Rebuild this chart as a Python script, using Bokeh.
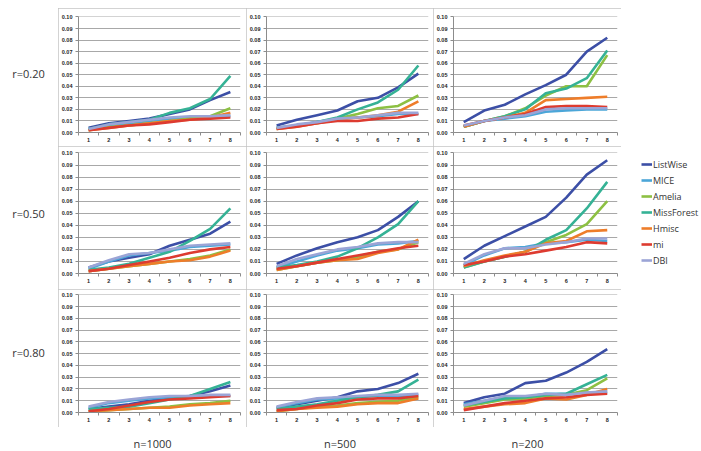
from bokeh.plotting import figure
from bokeh.layouts import row, column
from bokeh.models import (FixedTicker, PrintfTickFormatter, Range1d, Label,
                          Legend, LegendItem, Spacer)
from bokeh.embed import file_html
from bokeh.resources import INLINE

# ---------------- data ----------------
x_cats = [1, 2, 3, 4, 5, 6, 7, 8]
methods = ["ListWise", "MICE", "Amelia", "MissForest", "Hmisc", "mi", "DBI"]
colors = ["#3C4FA6", "#4BA6D8", "#8DC043", "#35B295", "#EE7D2A", "#DD3B30", "#9BA4D6"]
row_labels = ["r=0.20", "r=0.50", "r=0.80"]
col_labels = ["n=1000", "n=500", "n=200"]
y_ticks = [0.00, 0.01, 0.02, 0.03, 0.04, 0.05, 0.06, 0.07, 0.08, 0.09, 0.10]

r20_n1000 = {
    "ListWise":   [0.004, 0.008, 0.010, 0.012, 0.016, 0.020, 0.028, 0.035],
    "MICE":       [0.003, 0.006, 0.008, 0.010, 0.012, 0.013, 0.013, 0.014],
    "Amelia":     [0.002, 0.005, 0.006, 0.008, 0.010, 0.012, 0.014, 0.021],
    "MissForest": [0.003, 0.007, 0.009, 0.011, 0.017, 0.021, 0.029, 0.049],
    "Hmisc":      [0.002, 0.004, 0.006, 0.008, 0.010, 0.011, 0.013, 0.017],
    "mi":         [0.002, 0.004, 0.006, 0.007, 0.009, 0.011, 0.012, 0.013],
    "DBI":        [0.003, 0.007, 0.009, 0.011, 0.013, 0.014, 0.014, 0.015],
}
r20_n500 = {
    "ListWise":   [0.006, 0.011, 0.015, 0.019, 0.027, 0.030, 0.039, 0.051],
    "MICE":       [0.004, 0.006, 0.009, 0.012, 0.013, 0.014, 0.016, 0.016],
    "Amelia":     [0.003, 0.006, 0.008, 0.012, 0.016, 0.021, 0.023, 0.032],
    "MissForest": [0.004, 0.006, 0.009, 0.013, 0.020, 0.026, 0.037, 0.058],
    "Hmisc":      [0.003, 0.005, 0.008, 0.011, 0.013, 0.015, 0.018, 0.027],
    "mi":         [0.003, 0.005, 0.008, 0.010, 0.010, 0.012, 0.013, 0.016],
    "DBI":        [0.004, 0.007, 0.009, 0.012, 0.013, 0.015, 0.017, 0.017],
}
r20_n200 = {
    "ListWise":   [0.009, 0.019, 0.024, 0.033, 0.041, 0.050, 0.070, 0.082],
    "MICE":       [0.005, 0.010, 0.012, 0.014, 0.018, 0.019, 0.020, 0.020],
    "Amelia":     [0.005, 0.010, 0.014, 0.021, 0.032, 0.040, 0.040, 0.067],
    "MissForest": [0.005, 0.010, 0.014, 0.020, 0.034, 0.038, 0.047, 0.071],
    "Hmisc":      [0.005, 0.010, 0.013, 0.017, 0.028, 0.029, 0.030, 0.031],
    "mi":         [0.006, 0.010, 0.013, 0.016, 0.022, 0.023, 0.023, 0.022],
    "DBI":        [0.006, 0.010, 0.013, 0.015, 0.020, 0.021, 0.021, 0.021],
}
r50_n1000 = {
    "ListWise":   [0.005, 0.010, 0.013, 0.016, 0.023, 0.028, 0.033, 0.043],
    "MICE":       [0.004, 0.010, 0.015, 0.017, 0.019, 0.022, 0.023, 0.024],
    "Amelia":     [0.002, 0.004, 0.006, 0.008, 0.010, 0.012, 0.015, 0.020],
    "MissForest": [0.003, 0.005, 0.008, 0.013, 0.018, 0.027, 0.037, 0.054],
    "Hmisc":      [0.002, 0.004, 0.006, 0.008, 0.010, 0.011, 0.014, 0.019],
    "mi":         [0.002, 0.004, 0.007, 0.010, 0.013, 0.017, 0.020, 0.022],
    "DBI":        [0.005, 0.011, 0.016, 0.017, 0.020, 0.023, 0.024, 0.025],
}
r50_n500 = {
    "ListWise":   [0.008, 0.015, 0.021, 0.026, 0.030, 0.036, 0.047, 0.060],
    "MICE":       [0.005, 0.010, 0.015, 0.019, 0.021, 0.024, 0.025, 0.027],
    "Amelia":     [0.003, 0.006, 0.009, 0.011, 0.014, 0.018, 0.020, 0.026],
    "MissForest": [0.005, 0.007, 0.010, 0.014, 0.021, 0.030, 0.041, 0.060],
    "Hmisc":      [0.003, 0.006, 0.009, 0.011, 0.012, 0.017, 0.020, 0.028],
    "mi":         [0.004, 0.006, 0.009, 0.012, 0.015, 0.018, 0.021, 0.023],
    "DBI":        [0.006, 0.012, 0.016, 0.020, 0.022, 0.025, 0.026, 0.026],
}
r50_n200 = {
    "ListWise":   [0.012, 0.023, 0.031, 0.039, 0.047, 0.063, 0.082, 0.094],
    "MICE":       [0.007, 0.015, 0.021, 0.022, 0.025, 0.026, 0.028, 0.027],
    "Amelia":     [0.005, 0.010, 0.014, 0.018, 0.026, 0.032, 0.041, 0.060],
    "MissForest": [0.005, 0.010, 0.014, 0.018, 0.028, 0.036, 0.054, 0.076],
    "Hmisc":      [0.006, 0.011, 0.015, 0.018, 0.025, 0.027, 0.035, 0.036],
    "mi":         [0.007, 0.010, 0.014, 0.016, 0.019, 0.022, 0.026, 0.025],
    "DBI":        [0.008, 0.016, 0.021, 0.021, 0.024, 0.026, 0.029, 0.029],
}
r80_n1000 = {
    "ListWise":   [0.003, 0.005, 0.007, 0.010, 0.012, 0.014, 0.018, 0.023],
    "MICE":       [0.004, 0.008, 0.010, 0.012, 0.013, 0.014, 0.014, 0.014],
    "Amelia":     [0.001, 0.002, 0.003, 0.004, 0.005, 0.007, 0.008, 0.010],
    "MissForest": [0.003, 0.004, 0.005, 0.008, 0.011, 0.014, 0.020, 0.026],
    "Hmisc":      [0.001, 0.002, 0.003, 0.004, 0.004, 0.006, 0.007, 0.008],
    "mi":         [0.001, 0.003, 0.006, 0.009, 0.011, 0.012, 0.013, 0.014],
    "DBI":        [0.005, 0.009, 0.011, 0.013, 0.014, 0.014, 0.015, 0.015],
}
r80_n500 = {
    "ListWise":   [0.004, 0.007, 0.010, 0.013, 0.018, 0.020, 0.025, 0.033],
    "MICE":       [0.004, 0.008, 0.011, 0.012, 0.013, 0.014, 0.014, 0.015],
    "Amelia":     [0.001, 0.003, 0.005, 0.006, 0.008, 0.009, 0.010, 0.013],
    "MissForest": [0.003, 0.005, 0.007, 0.010, 0.013, 0.015, 0.018, 0.028],
    "Hmisc":      [0.001, 0.003, 0.004, 0.005, 0.007, 0.008, 0.008, 0.012],
    "mi":         [0.002, 0.003, 0.006, 0.008, 0.011, 0.012, 0.012, 0.014],
    "DBI":        [0.005, 0.009, 0.012, 0.013, 0.014, 0.015, 0.015, 0.016],
}
r80_n200 = {
    "ListWise":   [0.008, 0.013, 0.016, 0.025, 0.027, 0.034, 0.043, 0.054],
    "MICE":       [0.007, 0.010, 0.013, 0.013, 0.016, 0.016, 0.017, 0.017],
    "Amelia":     [0.005, 0.008, 0.011, 0.012, 0.014, 0.015, 0.019, 0.029],
    "MissForest": [0.006, 0.009, 0.012, 0.013, 0.015, 0.016, 0.024, 0.032],
    "Hmisc":      [0.003, 0.005, 0.007, 0.008, 0.012, 0.011, 0.015, 0.020],
    "mi":         [0.002, 0.005, 0.008, 0.010, 0.012, 0.013, 0.015, 0.016],
    "DBI":        [0.006, 0.010, 0.014, 0.014, 0.016, 0.015, 0.017, 0.018],
}

grid_data = [
    [r20_n1000, r20_n500, r20_n200],
    [r50_n1000, r50_n500, r50_n200],
    [r80_n1000, r80_n500, r80_n200],
]

# ---------------- layout sizes ----------------
page_margin = 8
col_w = [188, 187, 188]
col_right = [6, 5, 4]
row_h = [138, 143, 138]
row_top = [8, 6, 5]
row_bottom = [14, 16, 15]
label_w = 50
legend_w = 79
bottom_h = 23

AXIS = "#8c8c8c"
GRID = "#a8a8a8"
BORDER = "1px solid #c4c4c4"
TXT = "#333333"


def make_panel(data, w, h, top, bottom, right):
    p = figure(width=w, height=h, x_range=Range1d(0.5, 8.5), y_range=Range1d(0, 0.1004),
               output_backend="svg", toolbar_location=None,
               min_border_left=20, min_border_right=right,
               min_border_top=top, min_border_bottom=bottom)
    p.outline_line_color = None
    p.background_fill_color = "white"
    p.border_fill_color = "white"
    p.xgrid.visible = False
    p.ygrid.grid_line_color = GRID
    p.ygrid.grid_line_width = 1

    p.yaxis.ticker = FixedTicker(ticks=y_ticks)
    p.yaxis.formatter = PrintfTickFormatter(format="%.2f")
    p.yaxis.axis_line_color = AXIS
    p.yaxis.major_tick_line_color = AXIS
    p.yaxis.major_tick_out = 3
    p.yaxis.major_tick_in = 0
    p.yaxis.minor_tick_line_color = None
    p.yaxis.major_label_standoff = 3

    p.xaxis.ticker = FixedTicker(ticks=x_cats, minor_ticks=[c - 0.5 for c in x_cats] + [x_cats[-1] + 0.5])
    p.xaxis.axis_line_color = AXIS
    p.xaxis.major_tick_line_color = None
    p.xaxis.major_tick_out = 3
    p.xaxis.major_tick_in = 0
    p.xaxis.minor_tick_line_color = AXIS
    p.xaxis.minor_tick_out = 3
    p.xaxis.minor_tick_in = 0
    p.xaxis.major_label_standoff = 2

    for ax in (p.xaxis[0], p.yaxis[0]):
        ax.major_label_text_font = "Liberation Sans"
        ax.major_label_text_font_size = "5.5px"
        ax.major_label_text_font_style = "bold"
        ax.major_label_text_color = "#1e1e1e"

    for m, c in zip(methods, colors):
        p.line(x_cats, data[m], line_color=c, line_width=2.6, line_join="round")

    p.styles = {"outline": BORDER, "outline-offset": "-1px"}
    return p


def text_fig(w, h, text, x, y, size="11px"):
    f = figure(width=w, height=h, output_backend="svg", toolbar_location=None,
               x_axis_location=None, y_axis_location=None, min_border=0,
               x_range=Range1d(0, 1), y_range=Range1d(0, 1))
    f.outline_line_color = None
    f.grid.visible = False
    f.add_layout(Label(x=x, y=y, x_units="screen", y_units="screen", text=text,
                       text_align="center", text_baseline="middle",
                       text_font="Open Sans", text_font_size=size, text_color=TXT))
    return f


# row labels
row_label_y = [65, 67, 63]  # distance from top of each row
row_label_figs = [text_fig(label_w, row_h[i], row_labels[i], 20, row_h[i] - row_label_y[i])
                  for i in range(3)]

# panels
panel_rows = []
for i in range(3):
    panels = [make_panel(grid_data[i][j], col_w[j], row_h[i], row_top[i], row_bottom[i], col_right[j])
              for j in range(3)]
    panel_rows.append(row(*panels, spacing=0))

# legend (renderers hidden, drawn only as legend samples)
lf = figure(width=legend_w, height=sum(row_h), output_backend="svg", toolbar_location=None,
            x_axis_location=None, y_axis_location=None,
            min_border_left=20, min_border_top=148, min_border_right=0, min_border_bottom=0,
            x_range=Range1d(0.5, 8.5), y_range=Range1d(0, 0.1))
lf.outline_line_color = None
lf.grid.visible = False
items = []
for m, c in zip(methods, colors):
    r = lf.line(x_cats, r20_n1000[m], line_color=c, line_width=2.6, visible=False)
    items.append(LegendItem(label=m, renderers=[r]))
legend = Legend(items=items, location="top_left", margin=0, padding=0, spacing=0,
                glyph_width=11, glyph_height=16, label_height=16, label_standoff=1,
                label_text_font="Open Sans", label_text_font_size="9px",
                label_text_color=TXT, background_fill_alpha=0, border_line_color=None)
lf.add_layout(legend)

# column labels
col_label_figs = [text_fig(col_w[j], bottom_h, col_labels[j], col_w[j] / 2, 7) for j in range(3)]

top_part = row(column(*row_label_figs, spacing=0), column(*panel_rows, spacing=0), lf, spacing=0)
bottom_part = row(Spacer(width=label_w, height=bottom_h), *col_label_figs, spacing=0)
body = column(top_part, bottom_part, spacing=0)
layout = column(Spacer(height=page_margin),
                row(Spacer(width=page_margin), body, spacing=0),
                spacing=0)

open("out.html", "w").write(file_html(layout, INLINE))
